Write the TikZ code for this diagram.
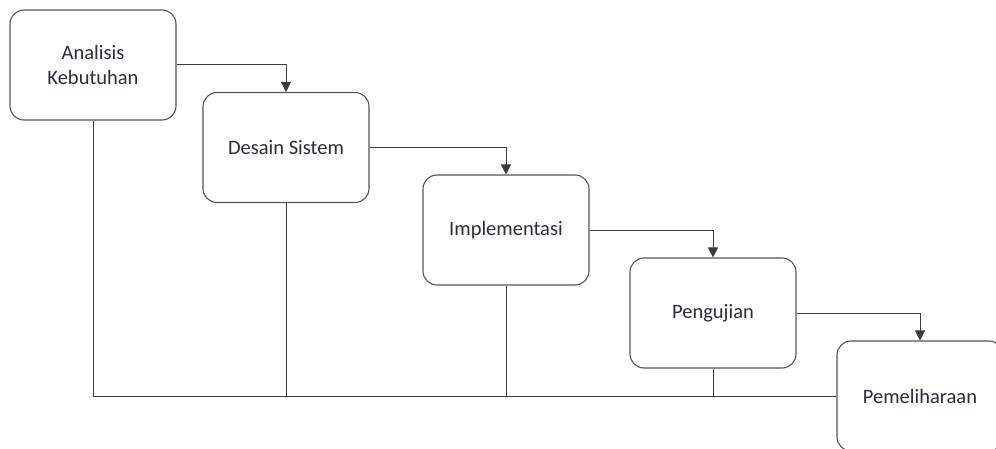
\documentclass[tikz,border=0pt]{standalone}
\usepackage{fontspec}
\setmainfont{Carlito}
\usetikzlibrary{arrows.meta}
\definecolor{boxline}{RGB}{85,85,85}
\definecolor{conline}{RGB}{60,60,60}
\definecolor{txt}{RGB}{40,45,65}
\begin{document}
\begin{tikzpicture}[x=1pt,y=1pt,
  stage/.style={draw=boxline, line width=1.1pt, rounded corners=14pt,
    minimum width=166pt, minimum height=110pt, align=center,
    text=txt, font=\fontsize{20.5}{25}\selectfont, inner sep=0pt},
  flow/.style={draw=conline, line width=1pt, -{Triangle[length=10pt,width=10pt]}},
  link/.style={draw=conline, line width=1pt}]
\clip (0,0) rectangle (996,448);
\fill[white] (0,0) rectangle (996,448);
\node[stage] (b1) at (93,383) {Analisis\\Kebutuhan};
\node[stage] (b2) at (286,300.5) {Desain Sistem};
\node[stage] (b3) at (506,218) {Implementasi};
\node[stage] (b4) at (713,135) {Pengujian};
\node[stage] (b5) at (920,52) {Pemeliharaan};
\draw[flow] (b1.east) -| (b2.north);
\draw[flow] (b2.east) -| (b3.north);
\draw[flow] (b3.east) -| (b4.north);
\draw[flow] (b4.east) -| (b5.north);
\draw[link] (b1.south) |- (b5.west);
\draw[link] (b2.south) -- (b2.south |- b5.west);
\draw[link] (b3.south) -- (b3.south |- b5.west);
\draw[link] (b4.south) -- (b4.south |- b5.west);
\end{tikzpicture}
\end{document}
